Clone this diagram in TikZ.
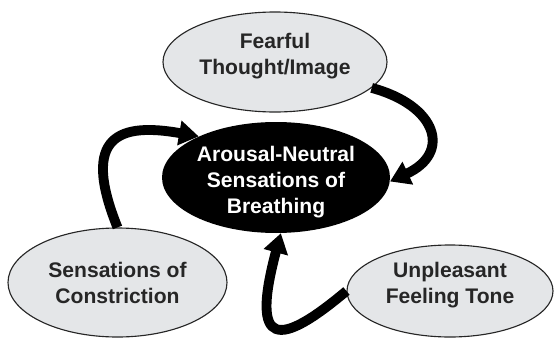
\documentclass[tikz,border=0pt]{standalone}
\usepackage{fontspec}
\setmainfont{Liberation Sans}
\usepackage{tikz}
\usetikzlibrary{arrows.meta, shapes.geometric}
\definecolor{bubblegray}{RGB}{228,230,232}
\definecolor{inkgray}{RGB}{38,38,38}

\begin{document}
\begin{tikzpicture}[
  bubble/.style={ellipse, draw=inkgray, line width=0.8pt, fill=bubblegray, inner sep=0pt},
  corebubble/.style={ellipse, fill=black, inner sep=0pt},
  bubble text/.style={font=\bfseries\fontsize{15}{18.5}\selectfont, align=center},
  flow/.style={line width=7pt, -{Triangle[length=14pt, width=17pt]}}
]
  \useasboundingbox (0,0) rectangle (13.85,8.475);
  % bubbles
  \node[bubble, minimum width=5.6cm, minimum height=2.5cm] (fearful) at (6.875,6.925) {};
  \node[corebubble, minimum width=5.7cm, minimum height=2.775cm] (arousal) at (6.9,4.0375) {};
  \node[bubble, minimum width=5.475cm, minimum height=2.725cm] (constriction) at (2.9375,1.4125) {};
  \node[bubble, minimum width=5.15cm, minimum height=2.3cm] (feeling) at (11.25,1.2) {};
  % texts
  \node[bubble text, text=inkgray] (fearfultxt) at ([yshift=0.15cm]fearful) {Fearful\\Thought/Image};
  \node[bubble text, text=white] (arousaltxt) at ([yshift=-0.12cm]arousal) {Arousal-Neutral\\Sensations of\\Breathing};
  \node[bubble text, text=inkgray] (constrictiontxt) at (constriction) {Sensations of\\Constriction};
  \node[bubble text, text=inkgray] (feelingtxt) at ([yshift=0.14cm]feeling) {Unpleasant\\Feeling Tone};
  % arrows
  \draw[flow] (fearful.-15) .. controls +(-15:1.7) and +(25:1.7) .. (arousal.-2);
  \draw[flow] (constriction.north) .. controls +(112:2.5) and +(170:2) .. (arousal.152);
  \draw[flow] (feeling.west) .. controls +(220:2.2) and +(255:3) .. (arousal.-85);
\end{tikzpicture}
\end{document}
